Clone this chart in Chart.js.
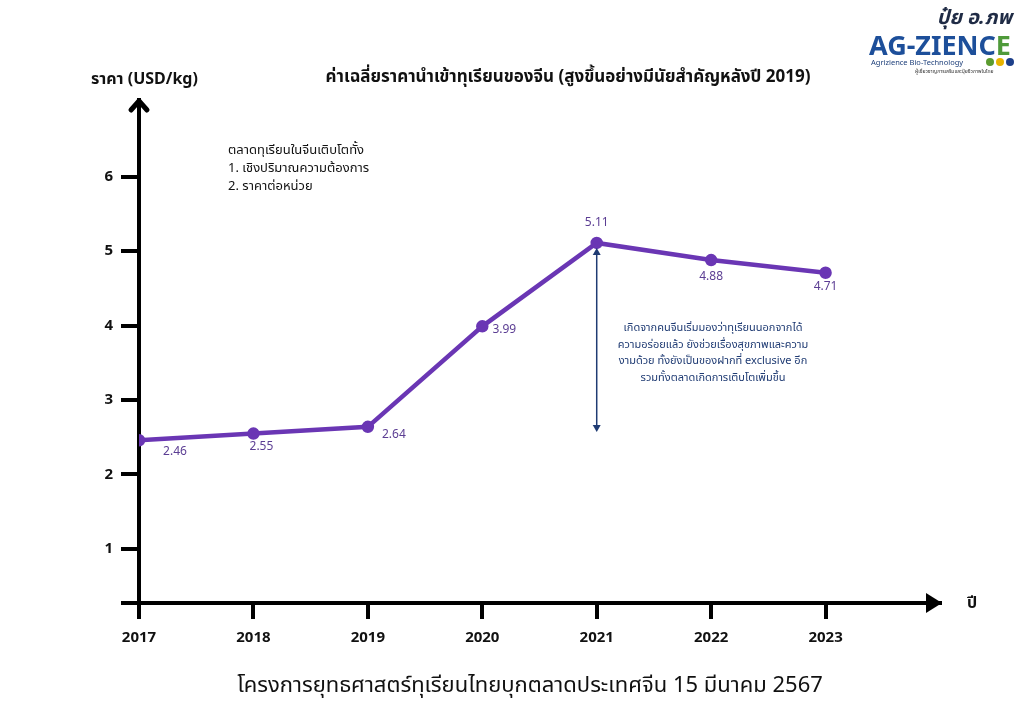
<!DOCTYPE html>
<html>
<head>
<meta charset="utf-8">
<script src="https://cdn.jsdelivr.net/npm/chart.js@4"></script>
<style>
  html, body { margin: 0; padding: 0; background: #fff; }
  #wrap { width: 1024px; height: 724px; }
</style>
</head>
<body>
<div id="wrap"><canvas id="myChart" width="1024" height="724"></canvas></div>
<script>
  const years = [2017, 2018, 2019, 2020, 2021, 2022, 2023];
  const prices = [2.46, 2.55, 2.64, 3.99, 5.11, 4.88, 4.71];
  const yTicks = [1, 2, 3, 4, 5, 6];

  const FONT = '"Noto Sans", "Noto Sans Thai", Roboto, sans-serif';
  const purple = '#6a36b4';
  const navy = '#1f3b73';

  // where each value label sits relative to its point
  const labelOffsets = [[36, 11], [8, 13], [26, 8], [22, 3], [0, -20], [0, 17], [0, 14]];

  const noteLeft = ['ตลาดทุเรียนในจีนเติบโตทั้ง', '1. เชิงปริมาณความต้องการ', '2. ราคาต่อหน่วย'];
  const noteRight = [
    'เกิดจากคนจีนเริ่มมองว่าทุเรียนนอกจากได้',
    'ความอร่อยแล้ว ยังช่วยเรื่องสุขภาพและความ',
    'งามด้วย ทั้งยังเป็นของฝากที่ exclusive อีก',
    'รวมทั้งตลาดเกิดการเติบโตเพิ่มขึ้น'
  ];

  const decor = {
    id: 'decor',
    afterDraw(chart) {
      const ctx = chart.ctx;
      const a = chart.chartArea;
      const x = chart.scales.x, y = chart.scales.y;
      ctx.save();

      // axis extension + arrow heads
      ctx.fillStyle = '#000';
      ctx.strokeStyle = '#000';
      ctx.fillRect(121, a.bottom - 2, a.left - 121, 4);
      ctx.lineWidth = 5;
      ctx.lineCap = 'round';
      ctx.lineJoin = 'round';
      ctx.beginPath();
      ctx.moveTo(a.left - 8, a.top + 10);
      ctx.lineTo(a.left, a.top + 1);
      ctx.lineTo(a.left + 8, a.top + 10);
      ctx.stroke();
      ctx.beginPath();
      ctx.moveTo(a.right + 2, a.bottom);
      ctx.lineTo(a.right - 14, a.bottom - 10);
      ctx.lineTo(a.right - 14, a.bottom + 10);
      ctx.closePath();
      ctx.fill();

      // value labels
      ctx.fillStyle = '#5b3d93';
      ctx.font = '12px ' + FONT;
      ctx.textAlign = 'center';
      ctx.textBaseline = 'middle';
      chart.getDatasetMeta(0).data.forEach((pt, i) => {
        ctx.fillText(prices[i].toFixed(2), pt.x + labelOffsets[i][0], pt.y + labelOffsets[i][1]);
      });

      // titles
      ctx.fillStyle = '#111';
      ctx.font = 'bold 17px ' + FONT;
      ctx.fillText('ค่าเฉลี่ยราคานำเข้าทุเรียนของจีน (สูงขึ้นอย่างมีนัยสำคัญหลังปี 2019)', 568, 77);
      ctx.font = 'bold 16px ' + FONT;
      ctx.textAlign = 'left';
      ctx.fillText('ราคา (USD/kg)', 91, 79);
      ctx.fillText('ปี', 967, 603);
      ctx.textAlign = 'center';
      ctx.font = '22px ' + FONT;
      ctx.fillText('โครงการยุทธศาสตร์ทุเรียนไทยบุกตลาดประเทศจีน 15 มีนาคม 2567', 530, 686);

      // left note
      ctx.textAlign = 'left';
      ctx.font = '13px ' + FONT;
      noteLeft.forEach((t, i) => ctx.fillText(t, 228, 150 + i * 18));

      // double arrow + right note
      const ax = x.getPixelForValue(2021);
      const top = y.getPixelForValue(5.11) + 5, bot = 432;
      ctx.strokeStyle = navy;
      ctx.fillStyle = navy;
      ctx.lineWidth = 1.5;
      ctx.lineCap = 'butt';
      ctx.beginPath();
      ctx.moveTo(ax, top + 4);
      ctx.lineTo(ax, bot - 4);
      ctx.stroke();
      [[top, 1], [bot, -1]].forEach(([py, d]) => {
        ctx.beginPath();
        ctx.moveTo(ax, py);
        ctx.lineTo(ax - 4, py + d * 7);
        ctx.lineTo(ax + 4, py + d * 7);
        ctx.closePath();
        ctx.fill();
      });
      ctx.textAlign = 'center';
      ctx.font = '11px ' + FONT;
      noteRight.forEach((t, i) => ctx.fillText(t, 713, 328 + i * 16.5));

      // logo
      ctx.fillStyle = '#1f2b45';
      ctx.font = 'italic bold 20px ' + FONT;
      ctx.textAlign = 'right';
      ctx.fillText('ปุ๋ย อ.ภพ', 1012, 18);
      ctx.textAlign = 'left';
      ctx.font = 'bold 27px ' + FONT;
      ctx.fillStyle = '#1d4f9a';
      ctx.fillText('AG-ZIENC', 869, 47);
      const w = ctx.measureText('AG-ZIENC').width;
      ctx.fillStyle = '#4f9a3a';
      ctx.fillText('E', 869 + w, 47);
      ctx.fillStyle = '#1d3f7a';
      ctx.font = '7.5px ' + FONT;
      ctx.fillText('Agrizience Bio-Technology', 871, 63);
      [['#5b9b2f', 990], ['#e8b400', 1000], ['#1d3f8a', 1010]].forEach(([c, cx]) => {
        ctx.fillStyle = c;
        ctx.beginPath();
        ctx.arc(cx, 62, 4, 0, Math.PI * 2);
        ctx.fill();
      });
      ctx.fillStyle = '#333';
      ctx.font = '5px ' + FONT;
      ctx.fillText('ผู้เชี่ยวชาญการเสริมและปุ๋ยชีวภาพในไทย', 915, 72);
      ctx.restore();
    }
  };

  const config = {
    type: 'line',
    data: {
      datasets: [{
        data: years.map((yr, i) => ({ x: yr, y: prices[i] })),
        borderColor: purple,
        backgroundColor: purple,
        borderWidth: 4.5,
        pointRadius: 4,
        pointHoverRadius: 4,
        tension: 0
      }]
    },
    options: {
      responsive: false,
      animation: false,
      layout: { padding: { top: 100, right: 84, left: 0, bottom: 0 } },
      plugins: { legend: { display: false }, tooltip: { enabled: false } },
      scales: {
        x: {
          type: 'linear',
          min: 2017,
          max: 2024,
          afterBuildTicks: s => { s.ticks = years.map(v => ({ value: v })); },
          afterFit: s => { s.height = 121; },
          border: { display: true, color: '#000', width: 4 },
          grid: { drawOnChartArea: false, drawTicks: true, tickLength: 16, lineWidth: 4, color: '#000' },
          ticks: { color: '#111', font: { family: FONT, size: 15, weight: 'bold' }, padding: 10, callback: v => String(v) }
        },
        y: {
          min: 0.274,
          max: 7.03,
          afterBuildTicks: s => { s.ticks = yTicks.map(v => ({ value: v })); },
          afterFit: s => { s.width = 139; },
          border: { display: true, color: '#000', width: 4 },
          grid: { drawOnChartArea: false, drawTicks: true, tickLength: 18, lineWidth: 4, color: '#000' },
          ticks: { color: '#111', font: { family: FONT, size: 15, weight: 'bold' }, padding: 8 }
        }
      }
    },
    plugins: [decor]
  };

  const myChart = new Chart(document.getElementById('myChart'), config);
</script>
</body>
</html>
